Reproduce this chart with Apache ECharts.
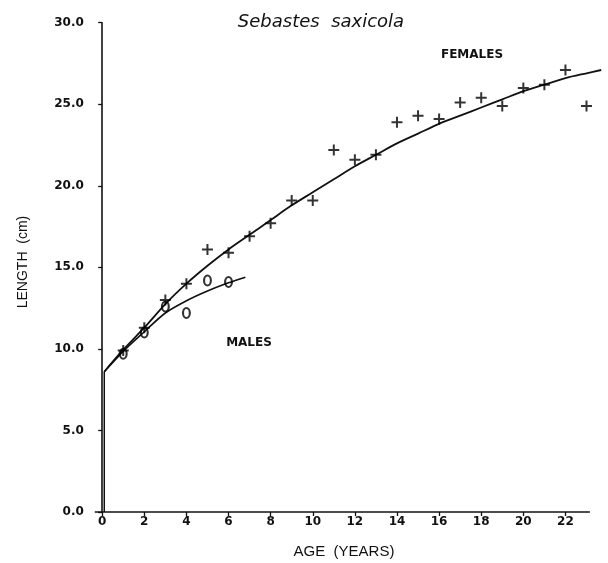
<!DOCTYPE html>
<html>
<head>
<meta charset="utf-8">
<script src="https://cdn.jsdelivr.net/npm/echarts@6/dist/echarts.min.js"></script>
<style>
html,body{margin:0;padding:0;background:#fff;}
#chart{width:608px;height:563px;}
</style>
</head>
<body>
<div id="chart"></div>
<script>
// ---- data ----
const femaleAges = [1,2,3,4,5,6,7,8,9,10,11,12,13,14,15,16,17,18,19,20,21,22,23];
const femaleLen  = [9.9,11.3,13.0,14.0,16.1,15.9,16.9,17.7,19.1,19.1,22.2,21.6,21.9,23.9,24.3,24.1,25.1,25.4,24.9,26.0,26.2,27.1,24.9];
const maleAges = [1,2,3,4,5,6];
const maleLen  = [9.7,11.0,12.6,12.2,14.2,14.1];
const femaleCurveAge = [0.1,1,2,3,4,5,6,7,8,9,10,11,12,13,14,15,16,17,18,19,20,21,22,23,23.7];
const femaleCurveLen = [8.6,9.95,11.3,12.75,14.0,15.1,16.1,17.0,17.9,18.8,19.6,20.4,21.2,21.9,22.6,23.2,23.8,24.3,24.8,25.3,25.8,26.2,26.6,26.9,27.1];
const maleCurveAge = [0.1,1,2,3,4,5,6,6.8];
const maleCurveLen = [8.6,9.85,11.05,12.2,12.95,13.55,14.05,14.4];
const dropAge = [0.1,0.1];
const dropLen = [0,8.6];
const xAxisLineAge = [-0.35,23.16];
const xAxisLineLen = [0,0];
const xTickValues = [0,2,4,6,8,10,12,14,16,18,20,22];
const yTickValues = [0,5,10,15,20,25,30];
const titleText = 'Sebastes  saxicola';
const femaleLabel = 'FEMALES';
const maleLabel = 'MALES';
const xName = 'AGE  (YEARS)';
const yName = 'LENGTH  (cm)';

const zip = (a,b) => a.map((v,i)=>[v,b[i]]);

const plusPath = 'path://M4.5,0h2v4.5h4.5v2h-4.5v4.5h-2v-4.5h-4.5v-2h4.5z';
const ringPath = 'path://M0,6a4.2,6 0 1,0 8.4,0a4.2,6 0 1,0 -8.4,0z M2,6a2.2,4 0 1,1 4.4,0a2.2,4 0 1,1 -4.4,0z';

const chart = echarts.init(document.getElementById('chart'), null, {renderer:'canvas'});
const tickFont = {fontFamily:'DejaVu Sans', fontWeight:'bold', fontSize:12, color:'#111'};
chart.setOption({
  animation:false,
  backgroundColor:'#fff',
  grid:{left:94.8, right:5.7, top:22.7, bottom:51, containLabel:false},
  xAxis:{
    type:'value', min:-0.35, max:23.75,
    splitLine:{show:false},
    axisLine:{show:false},
    axisTick:{show:true, length:4, customValues:xTickValues, lineStyle:{color:'#111', width:1.3}},
    axisLabel:Object.assign({customValues:xTickValues, margin:4}, tickFont)
  },
  yAxis:{
    type:'value', min:0, max:30, interval:5,
    splitLine:{show:false},
    axisLine:{onZero:true, lineStyle:{color:'#111', width:1.6}},
    axisTick:{show:true, length:4, lineStyle:{color:'#111', width:1.3}},
    axisLabel:Object.assign({margin:11, formatter:v=>v.toFixed(1)}, tickFont)
  },
  series:[
    {type:'line', data:zip(xAxisLineAge,xAxisLineLen), symbol:'none', clip:false, lineStyle:{color:'#111', width:1.5}, z:2},
    {type:'line', data:zip(dropAge,dropLen), symbol:'none', lineStyle:{color:'#111', width:1.5}, z:3},
    {type:'line', data:zip(femaleCurveAge,femaleCurveLen), smooth:0.3, symbol:'none', clip:false,
     lineStyle:{color:'#111', width:1.8}, z:3},
    {type:'line', data:zip(maleCurveAge,maleCurveLen), smooth:0.3, symbol:'none', clip:false,
     lineStyle:{color:'#111', width:1.6}, z:3},
    {type:'scatter', data:zip(femaleAges,femaleLen), symbol:plusPath, symbolSize:11,
     itemStyle:{color:'#000'}, z:4},
    {type:'scatter', data:zip(maleAges,maleLen), symbol:ringPath, symbolSize:[9,12],
     itemStyle:{color:'#000'}, z:4}
  ],
  graphic:[
    {type:'text', x:321, y:22, style:{text:titleText, fontFamily:'DejaVu Sans', fontStyle:'italic', fontSize:18, fill:'#111', align:'center', verticalAlign:'middle'}},
    {type:'text', x:472, y:55, style:{text:femaleLabel, fontFamily:'DejaVu Sans', fontWeight:'bold', fontSize:12, fill:'#111', align:'center', verticalAlign:'middle'}},
    {type:'text', x:249, y:343, style:{text:maleLabel, fontFamily:'DejaVu Sans', fontWeight:'bold', fontSize:12, fill:'#111', align:'center', verticalAlign:'middle'}},
    {type:'text', x:344, y:552, style:{text:xName, fontFamily:'Liberation Sans', fontSize:15, fill:'#111', align:'center', verticalAlign:'middle'}},
    {type:'text', x:23, y:262, rotation:Math.PI/2, style:{text:yName, fontFamily:'Liberation Sans', fontSize:14, fill:'#111', align:'center', verticalAlign:'middle'}}
  ]
});
</script>
</body>
</html>
